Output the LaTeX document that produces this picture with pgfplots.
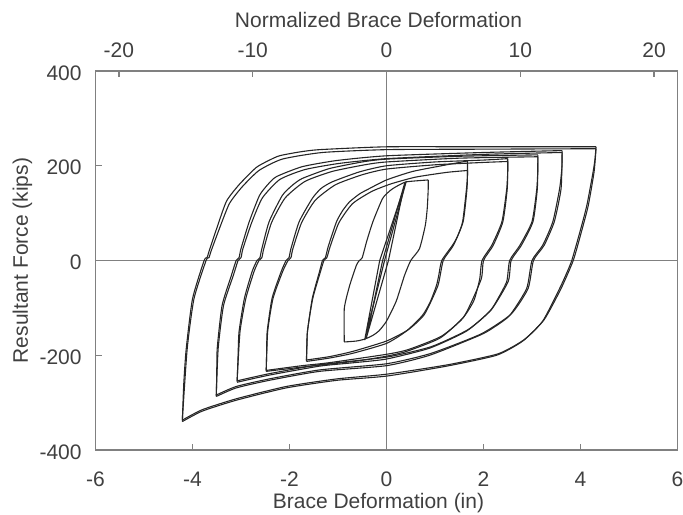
\documentclass[border=0pt]{standalone}
\usepackage{fontspec}
\setmainfont{Liberation Sans}
\usepackage{pgfplots}
\pgfplotsset{compat=1.18}
\begin{document}
\begin{tikzpicture}
\pgfplotsset{hys/.style={black!85, line width=0.55pt, mark=none, solid, smooth, tension=0.35}}
\begin{axis}[name=main,
  scale only axis, width=291pt, height=189.5pt,
  xmin=-6, xmax=6, ymin=-400, ymax=400,
  xtick={-6,-4,-2,0,2,4,6}, ytick={-400,-200,0,200,400},
  xtick pos=bottom, ytick pos=left,
  tick align=inside, major tick length=3pt,
  axis line style={black!50, line width=0.6pt},
  tick style={black!50, line width=0.6pt},
  /pgf/number format/assume math mode=true,
  ticklabel style={text=black!75, font=\fontsize{10.5}{12.6}\selectfont},
  xticklabel style={anchor=center, inner sep=0pt, yshift=-14.75pt},
  yticklabel style={anchor=east, inner sep=0pt, xshift=-6.75pt, yshift=-1pt},
  xlabel={Brace Deformation (in)},
  ylabel={Resultant Force (kips)},
  label style={text=black!75, font=\fontsize{10.5}{12.6}\selectfont},
  xlabel style={at={(axis description cs:0.48625,-0.1398)}, anchor=center},
  ylabel style={at={(axis description cs:-0.1254,0.5)}, anchor=center},
]
\addplot[black!50, line width=0.6pt, mark=none, forget plot] coordinates {(-6,0) (6,0)};
\addplot[black!50, line width=0.6pt, mark=none, forget plot] coordinates {(0,-400) (0,400)};
% elastic cycles
\addplot[hys, sharp plot] coordinates {(-0.45,-168) (-0.14,0) (0.41,168) (-0.04,0) (-0.45,-168)};
\addplot[hys, sharp plot] coordinates {(-0.42,-165) (-0.08,0) (0.38,165) (0.04,0) (-0.42,-165)};
% loop A
\addplot[hys] coordinates {(-0.87,-172) (-0.87,-101) (-0.76,-53) (-0.62,-10) (-0.56,0) (-0.5,6) (-0.41,40) (-0.28,82) (-0.08,131) (0.08,148) (0.2,156) (0.41,166) (0.86,170)};
\addplot[hys] coordinates {(0.86,170) (0.86,150) (0.84,110) (0.8,74) (0.68,25) (0.5,0) (0.37,-32) (0.2,-86) (0,-128) (-0.15,-148) (-0.28,-158) (-0.45,-166) (-0.62,-170) (-0.87,-172)};
% loop B
\addplot[hys] coordinates {(-1.65,-213) (-1.64,-180) (-1.63,-150) (-1.53,-80) (-1.38,-23) (-1.32,0) (-1.26,6) (-1.2,30) (-1.03,82) (-0.9,106) (-0.76,124) (-0.55,141) (-0.35,152) (0,170) (0.54,188) (1.24,202) (1.67,210)};
\addplot[hys] coordinates {(1.67,210) (1.67,180) (1.65,152) (1.57,82) (1.46,50) (1.36,32) (1.14,0) (1.08,-30) (1.03,-53) (0.9,-88) (0.74,-116) (0.41,-149) (0,-175) (-0.7,-196) (-1.18,-206) (-1.65,-213)};
\addplot[hys] coordinates {(-1.65,-210) (-1.63,-150) (-1.52,-80) (-1.36,-23) (-1.29,0) (-1.23,6) (-1.16,30) (-0.98,80) (-0.7,120) (-0.3,146) (0.1,162) (0.6,176) (1.24,186) (1.67,190)};
\addplot[hys] coordinates {(1.67,190) (1.66,152) (1.58,82) (1.38,32) (1.17,0) (1.06,-53) (0.78,-114) (0.45,-146) (0,-170) (-0.7,-192) (-1.18,-203) (-1.65,-210)};
% loop C
\addplot[hys] coordinates {(-2.48,-234) (-2.47,-190) (-2.46,-150) (-2.36,-80) (-2.17,-23) (-2.07,0) (-2.01,6) (-1.97,25) (-1.8,82) (-1.53,131) (-1.35,152) (-1.12,166) (-0.56,187) (0,200) (1.0,208) (2.0,212) (2.5,215)};
\addplot[hys] coordinates {(2.5,215) (2.5,190) (2.48,152) (2.38,82) (2.17,32) (1.97,0) (1.92,-40) (1.8,-85) (1.57,-122) (1.1,-164) (0.41,-192) (0,-202) (-0.6,-212) (-1.2,-219) (-1.74,-225) (-2.48,-234)};
\addplot[hys] coordinates {(-2.48,-232) (-2.45,-150) (-2.34,-80) (-2.14,-23) (-2.03,0) (-1.97,6) (-1.93,25) (-1.75,80) (-1.47,127) (-1.05,160) (-0.5,181) (0,193) (1.0,202) (2.0,207) (2.5,209)};
\addplot[hys] coordinates {(2.5,209) (2.49,152) (2.4,82) (2.2,32) (2.0,0) (1.95,-40) (1.6,-118) (1.13,-160) (0.45,-188) (0,-198) (-1.2,-216) (-1.74,-222) (-2.48,-232)};
% loop D
\addplot[hys] coordinates {(-3.08,-257) (-3.06,-200) (-3.04,-150) (-2.93,-80) (-2.77,-23) (-2.67,0) (-2.61,6) (-2.57,25) (-2.42,82) (-2.15,137) (-1.95,158) (-1.74,173) (-1.18,194) (-0.5,208) (0,214) (1.5,220) (3.12,223)};
\addplot[hys] coordinates {(3.12,223) (3.12,195) (3.1,152) (3.0,82) (2.75,32) (2.54,0) (2.48,-44) (2.3,-80) (2.13,-107) (1.65,-149) (0.89,-185) (0,-208) (-0.7,-216) (-1.38,-223) (-2.42,-242) (-3.08,-257)};
\addplot[hys] coordinates {(-3.08,-254) (-3.02,-150) (-2.9,-80) (-2.73,-23) (-2.63,0) (-2.57,6) (-2.53,25) (-2.37,80) (-2.09,132) (-1.68,167) (-1.12,188) (-0.45,202) (0,208) (1.5,216) (3.12,219)};
\addplot[hys] coordinates {(3.12,219) (3.11,152) (3.02,82) (2.78,32) (2.57,0) (2.51,-44) (2.16,-104) (1.68,-146) (0.92,-182) (0,-204) (-1.38,-220) (-2.42,-239) (-3.08,-254)};
% loop E
\addplot[hys] coordinates {(-3.51,-287) (-3.5,-240) (-3.49,-185) (-3.39,-95) (-3.2,-32) (-3.1,0) (-3.04,6) (-3.0,25) (-2.83,82) (-2.62,137) (-2.45,160) (-2.27,177) (-1.74,198) (-1.03,211) (0,221) (2.0,228) (3.62,232)};
\addplot[hys] coordinates {(3.62,232) (3.62,200) (3.57,152) (3.43,82) (3.22,32) (3.0,0) (2.89,-59) (2.54,-116) (2.2,-142) (1.92,-158) (0.89,-200) (0,-222) (-1.38,-234) (-2.42,-253) (-3.1,-269) (-3.51,-287)};
\addplot[hys] coordinates {(-3.51,-284) (-3.47,-185) (-3.36,-95) (-3.16,-32) (-3.06,0) (-3.0,6) (-2.96,25) (-2.78,80) (-2.56,132) (-2.2,171) (-1.68,192) (-0.97,205) (0,215) (2.0,224) (3.62,228)};
\addplot[hys] coordinates {(3.62,228) (3.6,152) (3.46,82) (3.25,32) (3.03,0) (2.92,-59) (2.57,-113) (1.95,-155) (0.92,-196) (0,-218) (-1.38,-231) (-2.42,-250) (-3.1,-266) (-3.51,-284)};
% loop F
\addplot[hys] coordinates {(-4.21,-340) (-4.18,-260) (-4.13,-187) (-4.0,-81) (-3.76,0) (-3.7,6) (-3.66,19) (-3.5,68) (-3.3,125) (-3.04,160) (-2.69,196) (-2.45,210) (-2.21,221) (-1.8,229) (-1.38,234) (0,240) (2.0,240) (4.32,240)};
\addplot[hys] coordinates {(4.32,240) (4.3,215) (4.26,187) (4.13,116) (3.99,61) (3.82,0) (3.7,-30) (3.57,-59) (3.22,-128) (2.81,-170) (2.27,-200) (1.24,-223) (0,-244) (-1.03,-253) (-2.07,-269) (-3.1,-295) (-3.8,-318) (-4.21,-340)};
\addplot[hys] coordinates {(-4.21,-337) (-4.11,-187) (-3.97,-81) (-3.72,0) (-3.66,6) (-3.62,19) (-3.45,66) (-3.24,120) (-2.98,155) (-2.63,190) (-2.15,214) (-1.32,228) (0,234) (2.0,235) (4.32,236)};
\addplot[hys] coordinates {(4.32,236) (4.28,187) (4.16,116) (4.02,61) (3.85,0) (3.6,-59) (3.25,-125) (2.84,-167) (2.3,-197) (1.27,-220) (0,-240) (-1.03,-250) (-2.07,-266) (-3.1,-292) (-3.8,-315) (-4.21,-337)};
\end{axis}
\begin{axis}[
  scale only axis, width=291pt, height=189.5pt,
  at={(main.south west)}, anchor=south west,
  xmin=-21.75, xmax=21.75, ymin=-400, ymax=400,
  axis x line*=top, hide y axis,
  xtick={-20,-10,0,10,20},
  tick align=inside, major tick length=3pt,
  axis line style={black!50, line width=0.6pt},
  tick style={black!50, line width=0.6pt},
  /pgf/number format/assume math mode=true,
  ticklabel style={text=black!75, font=\fontsize{10.5}{12.6}\selectfont},
  xticklabel style={anchor=center, inner sep=0pt, yshift=10.25pt},
  xlabel={Normalized Brace Deformation},
  label style={text=black!75, font=\fontsize{10.5}{12.6}\selectfont},
  xlabel style={at={(axis description cs:0.48625,1.1346)}, anchor=center},
]
\end{axis}
\pgfresetboundingbox
\path[use as bounding box] ([shift={(-47.75pt,-32.5pt)}]main.south west) rectangle ([shift={(2.75pt,35.5pt)}]main.north east);
\end{tikzpicture}
\end{document}
